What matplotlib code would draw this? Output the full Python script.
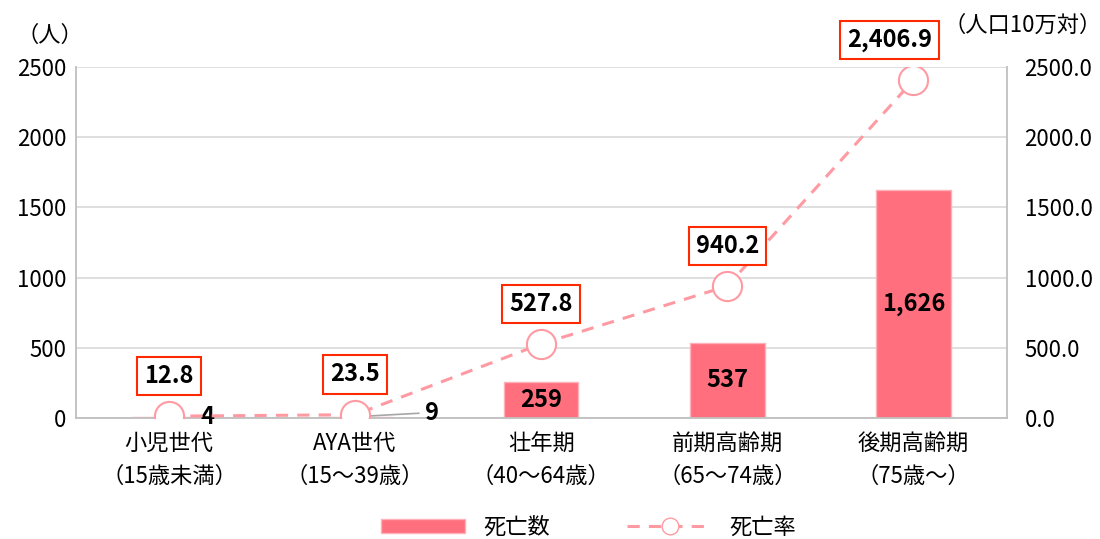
import matplotlib.pyplot as plt
from matplotlib.lines import Line2D
from matplotlib.patches import Patch

plt.rcParams['font.family'] = ['Noto Sans CJK JP', 'DejaVu Sans']

categories = ['小児世代\n（15歳未満）', 'AYA世代\n（15～39歳）', '壮年期\n（40～64歳）',
              '前期高齢期\n（65～74歳）', '後期高齢期\n（75歳～）']
deaths = [4, 9, 259, 537, 1626]
rates = [12.8, 23.5, 527.8, 940.2, 2406.9]
left_ticks = [0, 500, 1000, 1500, 2000, 2500]

bar_color = '#FF6F7D'
line_color = '#FF9AA2'
grid_color = '#D9D9D9'

fig = plt.figure(figsize=(11, 5.39), dpi=100)
ax = fig.add_axes([0.069, 0.2245, 0.846, 0.651])
ax2 = ax.twinx()

x = list(range(len(categories)))
ax.bar(x, deaths, width=0.4, color=bar_color, edgecolor='#FFB0B8', linewidth=1, zorder=2)
ax.set_xlim(-0.5, len(categories) - 0.5)
ax.set_ylim(0, 2500)
ax.set_yticks(left_ticks)
ax.set_yticklabels([str(t) for t in left_ticks], fontsize=16)
ax.set_xticks(x)
ax.set_xticklabels(categories, fontsize=16, linespacing=1.55)
ax.tick_params(axis='x', length=0, pad=10)
ax.tick_params(axis='y', length=0, pad=7)
ax.yaxis.grid(True, color=grid_color, linewidth=1.2, zorder=0)
ax.set_axisbelow(True)
for s in ['left', 'right', 'bottom']:
    ax.spines[s].set_color('#BFBFBF')
    ax.spines[s].set_linewidth(1.3)
ax.spines['top'].set_visible(False)

ax2.plot(x, rates, color=line_color, linestyle=(0, (4, 3)), linewidth=2.2,
         marker='o', markersize=21, markerfacecolor='white',
         markeredgecolor=line_color, markeredgewidth=1.5, zorder=3)
ax2.set_ylim(0, 2500)
ax2.set_yticks(left_ticks)
ax2.set_yticklabels([f'{t:.1f}' for t in left_ticks], fontsize=16)
ax2.tick_params(axis='y', length=0, pad=13)
for s in ['left', 'right', 'bottom', 'top']:
    ax2.spines[s].set_visible(False)

# bar value labels
for xi, d in zip(x, deaths):
    if d > 100:
        ax.text(xi, d / 2, f'{d:,}', ha='center', va='center', fontsize=17,
                fontweight='bold', zorder=4)
ax.annotate(f'{deaths[0]:,}', xy=(x[0], deaths[0]), xytext=(23, 0),
            textcoords='offset points', ha='left', va='center', fontsize=17,
            fontweight='bold')
ax.annotate(f'{deaths[1]:,}', xy=(x[1], deaths[1]), xytext=(50, 3),
            textcoords='offset points', ha='left', va='center', fontsize=17,
            fontweight='bold',
            arrowprops=dict(arrowstyle='-', color='#A6A6A6', lw=1.2,
                            shrinkA=2, shrinkB=0))

# rate labels
for i, (xi, r) in enumerate(zip(x, rates)):
    dx = -17 if i == len(rates) - 1 else 0
    ax2.annotate(f'{r:,.1f}', xy=(xi, r), xytext=(dx, 29), textcoords='offset points',
                 ha='center', va='center', fontsize=17, fontweight='bold', zorder=5,
                 bbox=dict(boxstyle='square,pad=0.3', fc='white', ec='#FF2A00', lw=1.5))

fig.text(0.045, 0.935, '（人）', ha='center', va='center', fontsize=16)
fig.text(0.93, 0.953, '（人口10万対）', ha='center', va='center', fontsize=16)

handles = [Patch(facecolor=bar_color, edgecolor='#FFB0B8'),
           Line2D([0], [0], color=line_color, linestyle=(0, (4, 3)), linewidth=2.2,
                  marker='o', markersize=12, markerfacecolor='white',
                  markeredgecolor=line_color)]
fig.legend(handles, ['死亡数', '死亡率'], loc='center', bbox_to_anchor=(0.535, 0.022),
           ncol=2, frameon=False, fontsize=16, handlelength=3.8, handleheight=0.6,
           columnspacing=3.5, handletextpad=0.8)

fig.savefig('out.png', dpi=100)
